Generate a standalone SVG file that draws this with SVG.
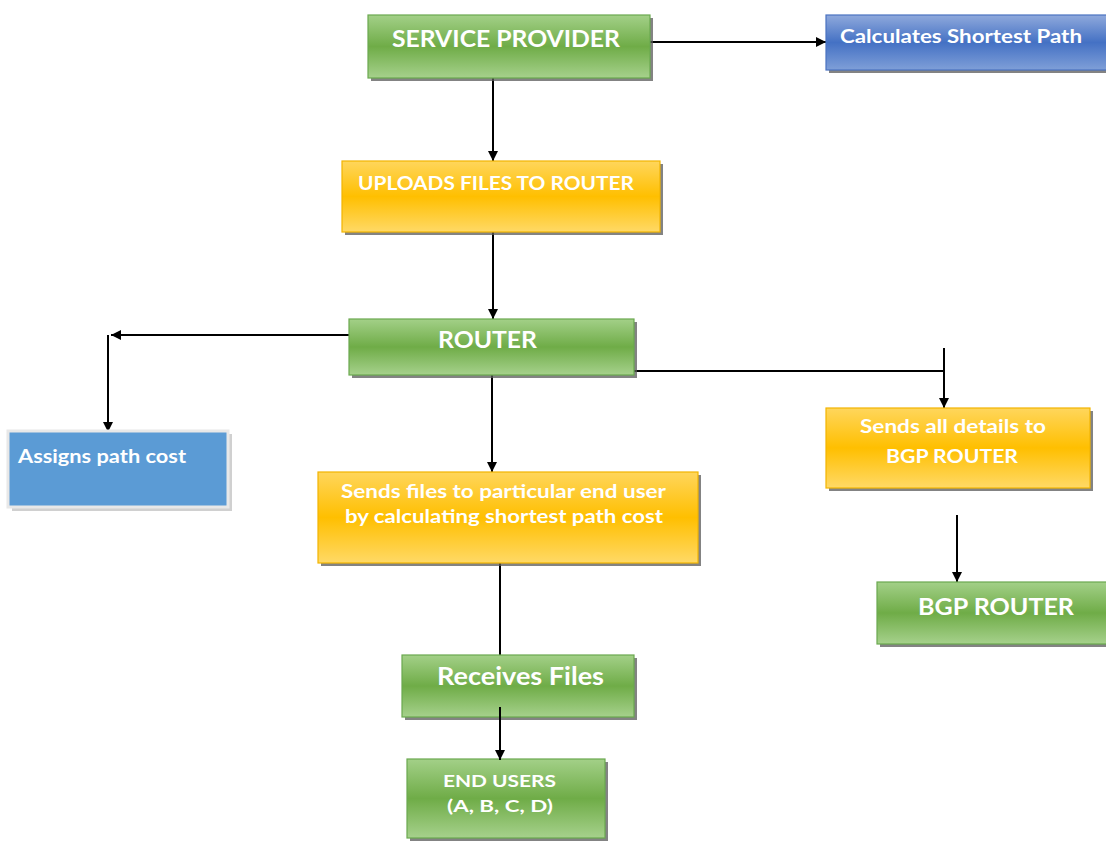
<svg xmlns="http://www.w3.org/2000/svg" width="1106" height="841" viewBox="0 0 1106 841">
<defs>
<linearGradient id="gGreen" x1="0" y1="0" x2="0" y2="1">
<stop offset="0" stop-color="#a3d088"/>
<stop offset="0.5" stop-color="#6fac47"/>
<stop offset="1" stop-color="#a6d18c"/>
</linearGradient>
<linearGradient id="gOrange" x1="0" y1="0" x2="0" y2="1">
<stop offset="0" stop-color="#ffd65c"/>
<stop offset="0.5" stop-color="#ffbf00"/>
<stop offset="1" stop-color="#ffd966"/>
</linearGradient>
<linearGradient id="gBlue" x1="0" y1="0" x2="0" y2="1">
<stop offset="0" stop-color="#8fa9dc"/>
<stop offset="0.5" stop-color="#4471c4"/>
<stop offset="1" stop-color="#7f9fd8"/>
</linearGradient>
<marker id="arr" viewBox="0 0 10 10" refX="10" refY="5" markerWidth="10" markerHeight="10" markerUnits="userSpaceOnUse" orient="auto">
<path d="M0,0 L10,5 L0,10 z" fill="#000"/>
</marker>
</defs>
<style>
.shadow{fill:#5a5a5a;opacity:0.75}
.green{fill:url(#gGreen);stroke:#6aa84f;stroke-width:1.2}
.orange{fill:url(#gOrange);stroke:#f2b400;stroke-width:1.2}
.blue{fill:url(#gBlue);stroke:#4a72c0;stroke-width:1.2}
.flatblue{fill:#5b9bd5;stroke:#e8e8e8;stroke-width:3}
text{font-family:Lato,"Liberation Sans",sans-serif;font-weight:bold;fill:#ffffff}
.c{text-anchor:middle}
.con{stroke:#000;stroke-width:2;fill:none}
</style>
<rect width="1106" height="841" fill="#ffffff"/>

<g id="connectors">
<line class="con" x1="650" y1="42" x2="826" y2="42" marker-end="url(#arr)"/>
<line class="con" x1="493" y1="78" x2="493" y2="161" marker-end="url(#arr)"/>
<line class="con" x1="493" y1="225" x2="493" y2="319" marker-end="url(#arr)"/>
<line class="con" x1="349" y1="335" x2="111" y2="335" marker-end="url(#arr)"/>
<line class="con" x1="108" y1="335" x2="108" y2="432" marker-end="url(#arr)"/>
<line class="con" x1="634" y1="371" x2="944" y2="371"/>
<line class="con" x1="944" y1="348" x2="944" y2="408" marker-end="url(#arr)"/>
<line class="con" x1="492" y1="375" x2="492" y2="472" marker-end="url(#arr)"/>
<line class="con" x1="957" y1="515" x2="957" y2="582" marker-end="url(#arr)"/>
<line class="con" x1="500" y1="563" x2="500" y2="655"/>
</g>

<g id="service-provider">
<rect class="shadow" x="371" y="18" width="282" height="63"/>
<rect class="green" x="368" y="15" width="282" height="63"/>
<text x="392" y="47" font-size="23" textLength="228" lengthAdjust="spacingAndGlyphs">SERVICE PROVIDER</text>
</g>

<g id="calculates-shortest-path">
<rect class="shadow" x="829" y="18" width="290" height="55"/>
<rect class="blue" x="826" y="15" width="290" height="55"/>
<text x="840" y="43" font-size="19" textLength="242" lengthAdjust="spacingAndGlyphs">Calculates Shortest Path</text>
</g>

<g id="uploads-files">
<rect class="shadow" x="345" y="164" width="318" height="71"/>
<rect class="orange" x="342" y="161" width="318" height="71"/>
<text x="358" y="190" font-size="18" textLength="276" lengthAdjust="spacingAndGlyphs">UPLOADS FILES TO ROUTER</text>
</g>

<g id="router">
<rect class="shadow" x="352" y="322" width="285" height="56"/>
<rect class="green" x="349" y="319" width="285" height="56"/>
<text x="438" y="348" font-size="22" textLength="99" lengthAdjust="spacingAndGlyphs">ROUTER</text>
</g>

<g id="assigns-path-cost">
<rect x="12" y="434" width="220" height="77" fill="#d0d0d0"/>
<rect class="flatblue" x="8" y="431" width="220" height="76"/>
<text x="18" y="463" font-size="18" textLength="168" lengthAdjust="spacingAndGlyphs">Assigns path cost</text>
</g>

<g id="sends-files">
<rect class="shadow" x="321" y="475" width="380" height="91"/>
<rect class="orange" x="318" y="472" width="380" height="91"/>
<text x="341" y="498" font-size="18" textLength="325" lengthAdjust="spacingAndGlyphs">Sends files to particular  end user</text>
<text x="345" y="523" font-size="18" textLength="318" lengthAdjust="spacingAndGlyphs">by calculating  shortest path cost</text>
</g>

<g id="sends-all-details">
<rect class="shadow" x="829" y="411" width="264" height="80"/>
<rect class="orange" x="826" y="408" width="264" height="80"/>
<text x="860" y="433" font-size="18" textLength="186" lengthAdjust="spacingAndGlyphs">Sends all details to</text>
<text x="886" y="463" font-size="18" textLength="132" lengthAdjust="spacingAndGlyphs">BGP ROUTER</text>
</g>

<g id="bgp-router">
<rect class="shadow" x="880" y="585" width="240" height="62"/>
<rect class="green" x="877" y="582" width="240" height="62"/>
<text x="918" y="615" font-size="23" textLength="156" lengthAdjust="spacingAndGlyphs">BGP ROUTER</text>
</g>

<g id="receives-files">
<rect class="shadow" x="405" y="658" width="232" height="62"/>
<rect class="green" x="402" y="655" width="232" height="62"/>
<text x="437" y="685" font-size="24" textLength="167" lengthAdjust="spacingAndGlyphs">Receives Files</text>
</g>

<g id="end-users">
<rect class="shadow" x="410" y="762" width="198" height="79"/>
<rect class="green" x="407" y="759" width="198" height="79"/>
<text x="443" y="787" font-size="17" textLength="113" lengthAdjust="spacingAndGlyphs">END USERS</text>
<text x="447" y="812" font-size="17" textLength="106" lengthAdjust="spacingAndGlyphs">(A, B, C, D)</text>
</g>

<g id="connectors-over">
<line class="con" x1="500" y1="707" x2="500" y2="760" marker-end="url(#arr)"/>
</g>
</svg>
